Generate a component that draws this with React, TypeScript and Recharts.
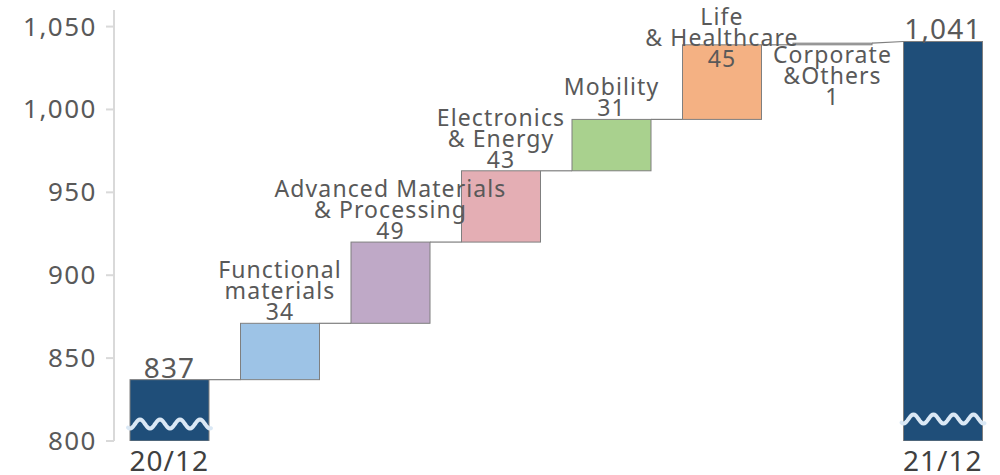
import React from 'react';
import { BarChart, Bar, XAxis, YAxis, LabelList } from 'recharts';

// Waterfall: segment contribution, Dec 2020 -> Dec 2021
const categories = [
  '20/12',
  'Functional\nmaterials',
  'Advanced Materials\n& Processing',
  'Electronics\n& Energy',
  'Mobility',
  'Life\n& Healthcare',
  'Corporate\n&Others',
  '21/12',
];
const values = [837, 34, 49, 43, 31, 45, 1, 1041];
const isTotal = [true, false, false, false, false, false, false, true];
const colors = ['#1F4E79', '#9DC3E6', '#BFA9C7', '#E4AEB4', '#A9D18E', '#F4B183', '#BFBFBF', '#1F4E79'];
const yTicks = [800, 850, 900, 950, 1000, 1050];
const AXIS_MIN = 800;
const AXIS_MAX = 1060;

const W = 1000;
const H = 475;
const MARGIN = { top: 10, right: 2, left: 0, bottom: 0 };
const Y_AXIS_W = 114;
const X_AXIS_H = 34;
const BAR_SIZE = 79;
const BAND = (W - MARGIN.left - MARGIN.right - Y_AXIS_W) / categories.length;

const FONT = '"Noto Sans", sans-serif';
const TEXT = '#595959';
const EDGE = '#7F7F7F';

// build floating ranges from the running total
let running = 0;
const rows = categories.map((name, i) => {
  let range: [number, number];
  if (isTotal[i]) {
    range = [AXIS_MIN, values[i]];
    running = values[i];
  } else {
    range = [running, running + values[i]];
    running += values[i];
  }
  return { name, range, value: values[i], total: isTotal[i] };
});
rows.forEach((r, i) => {
  const next = rows[i + 1];
  (r as any).connectTo = next ? (next.total ? next.range[1] : next.range[0]) : null;
});

const WaterfallBar = (props: any) => {
  const { x, y, width, height, index, payload } = props;
  const [lo, hi] = payload.range;
  const top = height < 0 ? y + height : y;
  const h = Math.abs(height);
  const ppu = h / (hi - lo);
  const yAt = (v: number) => top + (hi - v) * ppu;

  let wave = null;
  if (payload.total) {
    // axis-break mark, sits a bit higher on the tall bar
    const yc = top + h - (index === 0 ? 17 : 22);
    const pts: string[] = [];
    for (let t = -2; t <= width + 2; t += 1) {
      pts.push(`${x + t},${yc + 4.5 * Math.cos((2 * Math.PI * t) / 20)}`);
    }
    wave = (
      <polyline points={pts.join(' ')} fill="none" stroke="#DAE8F5" strokeWidth={4} strokeLinecap="round" />
    );
  }

  return (
    <g>
      <rect x={x} y={top} width={width} height={Math.max(h, 1)} fill={colors[index]} stroke={EDGE} strokeWidth={1} />
      {wave}
      {payload.connectTo != null && (
        <line
          x1={x + width}
          y1={yAt(hi)}
          x2={x + width + (BAND - width)}
          y2={yAt(payload.connectTo)}
          stroke={EDGE}
          strokeWidth={1.2}
        />
      )}
    </g>
  );
};

const renderLabel = (props: any) => {
  const { x, y, width, height, index } = props;
  const row = rows[index];
  const cx = x + width / 2;
  const top = height < 0 ? y + height : y;
  const bottom = top + Math.abs(height);

  if (row.total) {
    return (
      <text x={cx} y={top - 2} textAnchor="middle" fontFamily={FONT} fontSize={28} fill={TEXT} letterSpacing={1.2}>
        {row.value.toLocaleString('en-US')}
      </text>
    );
  }

  const lines = [...row.name.split('\n'), String(row.value)];
  const lh = 21;
  let first: number;
  if (row.value < 5) {
    first = bottom + 18;
  } else {
    first = top - 3 - lh * (lines.length - 1);
    if (first < 25) first = 25;
  }
  return (
    <text textAnchor="middle" fontFamily={FONT} fontSize={23} fill={TEXT} letterSpacing={1.1}>
      {lines.map((l, i) => (
        <tspan key={i} x={cx} y={first + i * lh}>
          {l}
        </tspan>
      ))}
    </text>
  );
};

const YTick = (props: any) => {
  const { y, payload } = props;
  return (
    <g>
      <line x1={106} x2={114} y1={y} y2={y} stroke="#D9D9D9" strokeWidth={2} />
      <text x={97} y={y + 9} textAnchor="end" fontFamily={FONT} fontSize={26} fill={TEXT} letterSpacing={1.5}>
        {payload.value.toLocaleString('en-US')}
      </text>
    </g>
  );
};

const XTick = (props: any) => {
  const { x, y, index } = props;
  if (!rows[index] || !rows[index].total) return <g />;
  return (
    <text x={x} y={y + 22} textAnchor="middle" fontFamily={FONT} fontSize={28} fill="#404040" letterSpacing={1}>
      {rows[index].name}
    </text>
  );
};

export default function App() {
  return (
    <div style={{ position: 'absolute', left: 0, top: 0, width: W, height: H, background: '#fff' }}>
      <BarChart width={W} height={H} data={rows} margin={MARGIN} barSize={BAR_SIZE}>
        <XAxis
          dataKey="name"
          height={X_AXIS_H}
          axisLine={false}
          tickLine={false}
          interval={0}
          tick={<XTick />}
        />
        <YAxis
          width={Y_AXIS_W}
          domain={[AXIS_MIN, AXIS_MAX]}
          ticks={yTicks}
          allowDataOverflow
          tickLine={false}
          axisLine={{ stroke: '#D9D9D9', strokeWidth: 2 }}
          tick={<YTick />}
        />
        <Bar dataKey="range" shape={<WaterfallBar />} isAnimationActive={false}>
          <LabelList dataKey="range" content={renderLabel} />
        </Bar>
      </BarChart>
    </div>
  );
}
